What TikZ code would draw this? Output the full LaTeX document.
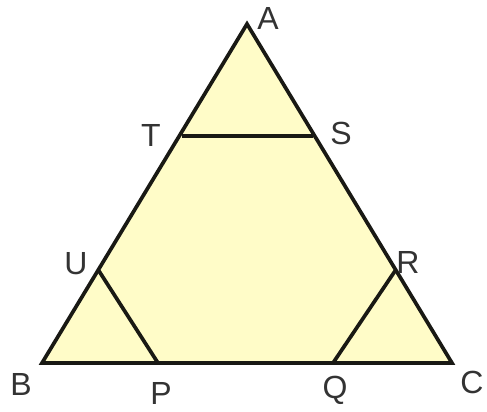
\documentclass[tikz,border=0pt]{standalone}
\usepackage{fontspec}
\setmainfont{Liberation Sans}
\usepackage{tikz}
\usetikzlibrary{calc,positioning}
\definecolor{paleyellow}{RGB}{255,252,200}
\definecolor{edgeblack}{RGB}{25,25,20}
\tikzset{
  side/.style={draw=edgeblack, line width=3.7pt, line join=miter},
  vlabel/.style={font=\fontsize{32}{38}\selectfont, text=black!80, inner sep=0pt}
}
\begin{document}
\begin{tikzpicture}[x=1pt,y=-1pt]
      \useasboundingbox (0,0) rectangle (487,412);
      % vertices
      \coordinate (A) at (247,24);
      \coordinate (B) at (42,363);
      \coordinate (C) at (452,363);
      \coordinate (T) at (182,136);
      \coordinate (S) at (313,136);
      \coordinate (U) at (99,271);
      \coordinate (R) at (395,271);
      \coordinate (P) at (158,363);
      \coordinate (Q) at (333,363);
      % Draw the triangle
      \filldraw[fill=paleyellow, side] (A) -- (B) -- (C) -- cycle;
      % cuts
      \draw[side] (T) -- (S);
      \draw[side] (U) -- (P);
      \draw[side] (R) -- (Q);
      % labels
      \node[vlabel] (lA) at (268,18) {A};
      \node[vlabel] (lT) at (151,135) {T};
      \node[vlabel] (lS) at (341,133) {S};
      \node[vlabel] (lU) at (76,264) {U};
      \node[vlabel] (lR) at (408,262) {R};
      \node[vlabel] (lB) at (21,384) {B};
      \node[vlabel] (lP) at (161,393) {P};
      \node[vlabel] (lQ) at (335,390) {Q};
      \node[vlabel] (lC) at (472,382) {C};
\end{tikzpicture}
\end{document}
